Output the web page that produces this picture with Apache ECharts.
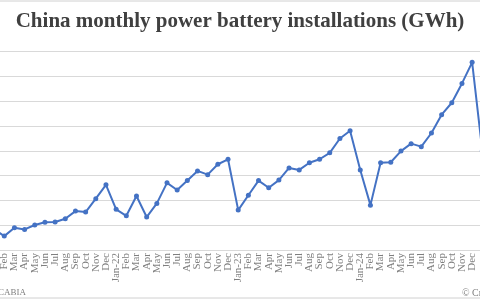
<!DOCTYPE html>
<html>
<head>
<meta charset="utf-8">
<script src="https://cdn.jsdelivr.net/npm/echarts@6/dist/echarts.min.js"></script>
<style>
  html, body { margin: 0; padding: 0; background: #fff; }
  #chart { width: 480px; height: 300px; }
</style>
</head>
<body>
<div id="chart"></div>
<script>
// 月份标签 (Jan-21 .. Jan-25)
const months = ['Jan-21', 'Feb', 'Mar', 'Apr', 'May', 'Jun', 'Jul', 'Aug', 'Sep', 'Oct', 'Nov', 'Dec',
    'Jan-22', 'Feb', 'Mar', 'Apr', 'May', 'Jun', 'Jul', 'Aug', 'Sep', 'Oct', 'Nov', 'Dec',
    'Jan-23', 'Feb', 'Mar', 'Apr', 'May', 'Jun', 'Jul', 'Aug', 'Sep', 'Oct', 'Nov', 'Dec',
    'Jan-24', 'Feb', 'Mar', 'Apr', 'May', 'Jun', 'Jul', 'Aug', 'Sep', 'Oct', 'Nov', 'Dec',
    'Jan-25'];

// 装车量 GWh, 按年份
const gwh2021 = [8.3, 5.6, 9.0, 8.3, 10.1, 11.2, 11.3, 12.6, 15.7, 15.3, 20.7, 26.3];
const gwh2022 = [16.4, 13.8, 21.8, 13.3, 18.8, 27.1, 24.2, 28.0, 31.9, 30.4, 34.6, 36.6];
const gwh2023 = [16.1, 22.1, 28.0, 25.1, 28.2, 33.1, 32.3, 35.2, 36.6, 39.2, 45.0, 48.1];
const gwh2024 = [32.3, 18.1, 35.2, 35.4, 39.9, 42.9, 41.7, 47.2, 54.6, 59.4, 67.2, 75.7];
const gwh2025 = [40.0];

const installs = [].concat(gwh2021, gwh2022, gwh2023, gwh2024, gwh2025);

const chart = echarts.init(document.getElementById('chart'));
chart.setOption({
    animation: false,
    backgroundColor: '#fff',
    title: {
        text: 'China monthly power battery installations (GWh)',
        left: 'center',
        top: 6,
        textStyle: {
            fontFamily: 'Liberation Serif',
            fontWeight: 'bold',
            fontSize: 21,
            color: '#404040'
        }
    },
    grid: {
        left: -11,
        width: 498.4,
        top: 51.7,
        height: 198.3,
        containLabel: false,
        outerBoundsMode: 'none'
    },
    xAxis: {
        type: 'category',
        data: months,
        boundaryGap: true,
        axisTick: { show: false },
        axisLine: { lineStyle: { color: '#d9d9d9' } },
        axisLabel: {
            interval: 0,
            hideOverlap: false,
            // 最后一个标签在原图中被裁掉
            formatter: function (v, i) { return i === months.length - 1 ? '' : v; },
            rotate: 90,
            margin: 3,
            fontFamily: 'Liberation Serif',
            fontSize: 11,
            color: '#7f7f7f'
        }
    },
    yAxis: {
        type: 'value',
        min: 0,
        max: 80,
        interval: 10,
        axisLabel: { show: false },
        axisLine: { show: false },
        axisTick: { show: false },
        splitLine: { lineStyle: { color: '#d9d9d9', width: 1 } }
    },
    series: [{
        type: 'line',
        data: installs,
        symbol: 'circle',
        symbolSize: 5,
        lineStyle: { color: '#4472C4', width: 2 },
        itemStyle: { color: '#4472C4' }
    }],
    graphic: [
        {
            type: 'rect',
            shape: { x: -5, y: 1, width: 490, height: 297 },
            style: { fill: 'none', stroke: '#d0d0d0', lineWidth: 1 }
        },
        {
            type: 'text',
            x: -2,
            y: 293,
            style: {
                text: 'CABIA',
                fontFamily: 'Liberation Serif',
                fontSize: 9,
                fill: '#808080',
                verticalAlign: 'middle'
            }
        },
        {
            type: 'text',
            x: 462,
            y: 293,
            style: {
                text: '© CnEVPost',
                fontFamily: 'Liberation Serif',
                fontSize: 10,
                fill: '#808080',
                verticalAlign: 'middle'
            }
        }
    ]
});
</script>
</body>
</html>
